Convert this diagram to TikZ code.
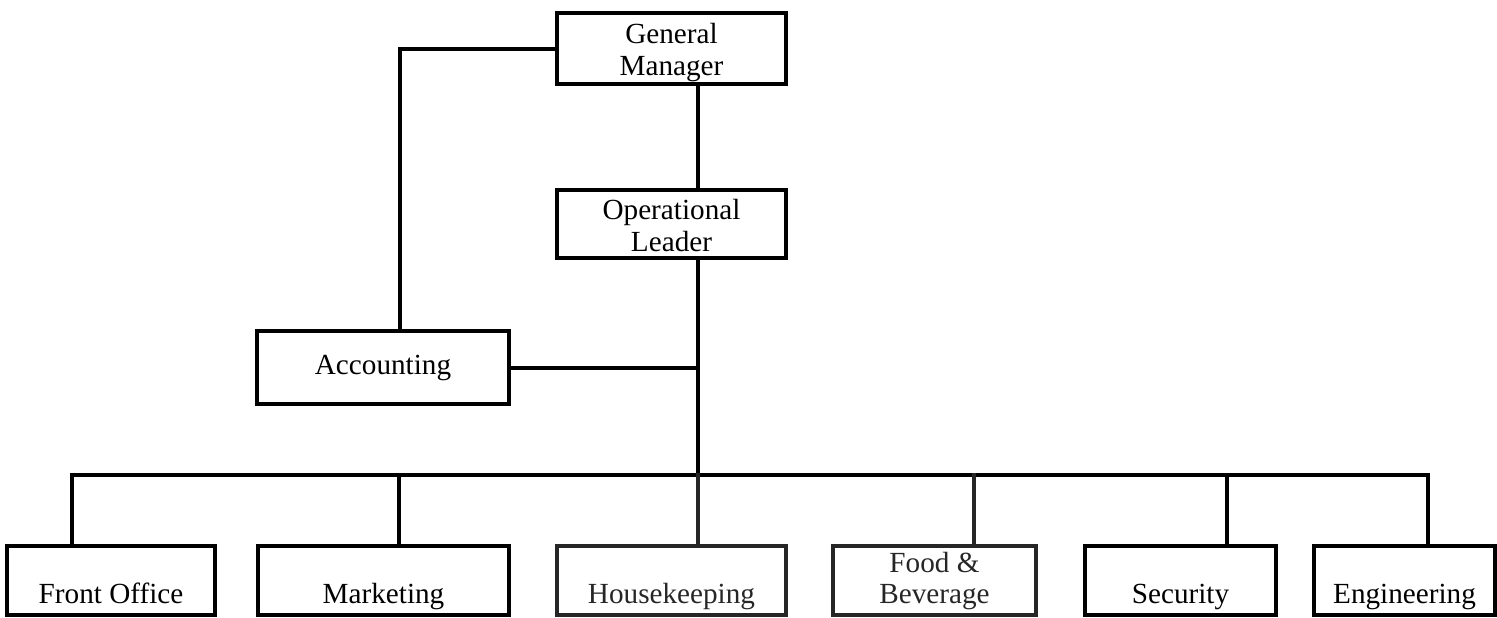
\documentclass[tikz,border=0pt]{standalone}
\usepackage{fontspec}
\setmainfont{Liberation Serif}
\begin{document}
\begin{tikzpicture}[x=0.5pt,y=-0.5pt,
  box/.style={draw=black,line width=1.9pt,rectangle,inner sep=0pt,align=center,
    font=\fontsize{14.6pt}{15.5pt}\selectfont},
  lowbox/.style={box,minimum height=34.5pt,text height=26.5pt,text depth=4pt},
  conn/.style={line width=2pt,line cap=rect}]
\useasboundingbox (0,0) rectangle (1497,617);
\node[box,minimum width=114.5pt,minimum height=35.5pt] (gm) at (671.5,48.5) {\raisebox{-2pt}[\height][\depth]{\parbox{110pt}{\centering General\\[0.5pt]Manager}}};
\node[box,minimum width=114.5pt,minimum height=34pt] (ol) at (671.5,224) {\raisebox{-1pt}[\height][\depth]{\parbox{110pt}{\centering Operational\\[0.5pt]Leader}}};
\node[box,minimum width=126pt,minimum height=36.5pt] (acc) at (383,367.5) {Accounting};
\node[lowbox,minimum width=104pt] (fo) at (111,580.5) {Front Office};
\node[lowbox,minimum width=125.5pt] (mk) at (383.5,580.5) {Marketing};
\node[lowbox,minimum width=114.5pt,draw=black!85,text=black!85] (hk) at (671.5,580.5) {Housekeeping};
\node[lowbox,minimum width=101.5pt,draw=black!85,text=black!85] (fb) at (934.5,580.5) {Food \&\\Beverage};
\node[lowbox,minimum width=95.5pt] (se) at (1180.5,580.5) {Security};
\node[lowbox,minimum width=90.5pt] (en) at (1404.5,580.5) {Engineering};
% trunk
\coordinate (t) at (698,0);
\coordinate (lx) at (400,0);
\coordinate (bus) at (698,475);
\draw[conn] (gm.south -| t) -- (ol.north -| t);
\draw[conn] (ol.south -| t) -- (bus);
\draw[conn] (gm.west) -- (gm.west -| lx) -- (acc.north -| lx);
\draw[conn] (acc.east) -- (acc.east -| t);
% bus
\coordinate (d1) at (72,475);
\coordinate (d2) at (399,475);
\coordinate (d3) at (698,475);
\coordinate (d4) at (974,475);
\coordinate (d5) at (1227,475);
\coordinate (d6) at (1428,475);
\draw[conn] (d1) -- (d6);
\draw[conn] (d1) -- (d1 |- fo.north);
\draw[conn] (d2) -- (d2 |- mk.north);
\draw[conn,black!85] (d3) -- (d3 |- hk.north);
\draw[conn,black!85] (d4) -- (d4 |- fb.north);
\draw[conn] (d5) -- (d5 |- se.north);
\draw[conn] (d6) -- (d6 |- en.north);
\end{tikzpicture}
\end{document}
